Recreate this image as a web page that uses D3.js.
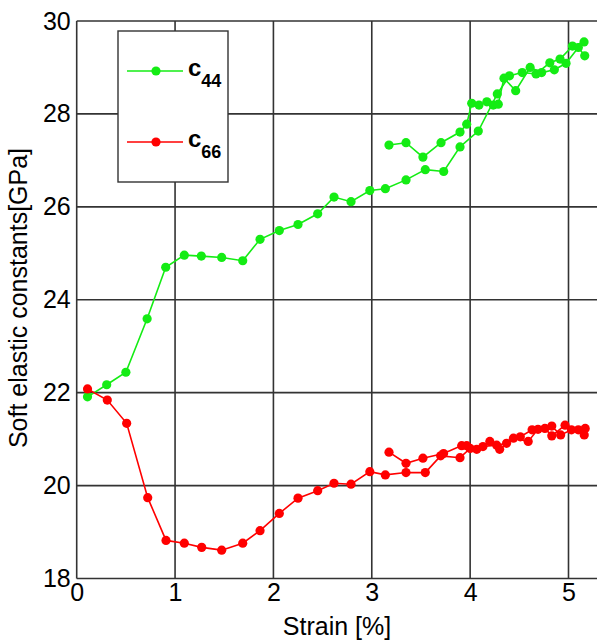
<!DOCTYPE html>
<html><head><meta charset="utf-8">
<script src="https://cdn.jsdelivr.net/npm/d3@7"></script>
<style>
html,body{margin:0;padding:0;background:#fff;}
svg{display:block;font-family:Arial,"Liberation Sans",sans-serif;}
</style></head>
<body>
<svg id="chart" width="597" height="641"></svg>
<script>
// ---- data ----
const xTicks = [0, 1, 2, 3, 4, 5];
const yTicks = [18, 20, 22, 24, 26, 28, 30];
const seriesNames = ["c44", "c66"];

const c44RunA_x = [0.11, 0.305, 0.50, 0.716, 0.905, 1.094, 1.267, 1.474, 1.688, 1.864, 2.06, 2.25, 2.45, 2.616, 2.789, 2.98, 3.138, 3.348, 3.544, 3.731, 3.897, 4.083, 4.276, 4.40, 4.53, 4.67, 4.81, 4.914, 5.04, 5.158];
const c44RunA_y = [21.91, 22.17, 22.44, 23.59, 24.70, 24.96, 24.94, 24.91, 24.84, 25.30, 25.49, 25.62, 25.85, 26.21, 26.11, 26.35, 26.39, 26.58, 26.80, 26.76, 27.29, 27.63, 28.43, 28.82, 28.89, 28.86, 29.10, 29.18, 29.46, 29.55];
const c44RunB_x = [3.175, 3.348, 3.52, 3.704, 3.897, 3.965, 4.016, 4.09, 4.17, 4.235, 4.286, 4.344, 4.463, 4.61, 4.727, 4.856, 4.975, 5.10, 5.165];
const c44RunB_y = [27.33, 27.38, 27.07, 27.38, 27.61, 27.78, 28.23, 28.19, 28.26, 28.19, 28.21, 28.77, 28.50, 29.00, 28.89, 28.95, 29.09, 29.43, 29.25];

const c66RunA_x = [0.11, 0.311, 0.508, 0.722, 0.908, 1.094, 1.271, 1.474, 1.688, 1.864, 2.06, 2.25, 2.45, 2.616, 2.789, 2.98, 3.138, 3.348, 3.544, 3.70, 3.897, 4.0, 4.13, 4.27, 4.37, 4.51, 4.63, 4.76, 4.83, 4.965, 5.10, 5.17];
const c66RunA_y = [22.08, 21.84, 21.34, 19.74, 18.82, 18.76, 18.67, 18.61, 18.76, 19.03, 19.40, 19.73, 19.89, 20.05, 20.03, 20.30, 20.23, 20.28, 20.28, 20.64, 20.60, 20.80, 20.84, 20.87, 20.91, 21.05, 21.20, 21.23, 21.07, 21.30, 21.20, 21.23];
const c66RunB_x = [3.175, 3.348, 3.52, 3.73, 3.914, 3.965, 4.067, 4.20, 4.30, 4.44, 4.59, 4.69, 4.83, 4.92, 5.03, 5.16];
const c66RunB_y = [20.72, 20.48, 20.59, 20.69, 20.86, 20.86, 20.78, 20.95, 20.78, 21.02, 20.95, 21.21, 21.28, 21.09, 21.20, 21.09];

const colors = {c44: "#14ec14", c66: "#ff0000"};

// ---- layout ----
const svg = d3.select("#chart");
const x = d3.scaleLinear().domain([0, 5.35]).range([76.7, 76.7 + 5.35 * 98.36]);
const y = d3.scaleLinear().domain([18, 30]).range([578.5, 21]);
const gridColor = "#333";

// grid
const g = svg.append("g");
g.selectAll("line.vg").data(xTicks.slice(1)).join("line")
  .attr("x1", d => x(d)).attr("x2", d => x(d))
  .attr("y1", y(30)).attr("y2", y(18))
  .attr("stroke", gridColor).attr("stroke-width", 1.6);
g.selectAll("line.hg").data(yTicks.slice(1, -1)).join("line")
  .attr("x1", x(0)).attr("x2", x(5.35))
  .attr("y1", d => y(d)).attr("y2", d => y(d))
  .attr("stroke", gridColor).attr("stroke-width", 1.6);

// axes frame
g.append("line").attr("x1", x(0)).attr("x2", x(5.35)).attr("y1", y(30)).attr("y2", y(30)).attr("stroke", gridColor).attr("stroke-width", 1.6);
g.append("line").attr("x1", x(0)).attr("x2", x(5.35)).attr("y1", y(18)).attr("y2", y(18)).attr("stroke", gridColor).attr("stroke-width", 1.6);
g.append("line").attr("x1", x(0)).attr("x2", x(0)).attr("y1", y(30)).attr("y2", y(18)).attr("stroke", gridColor).attr("stroke-width", 1.6);

// axis labels via d3 axes (no domain line)
const xAxis = d3.axisBottom(x).tickValues(xTicks).tickSize(0).tickPadding(5).tickFormat(d3.format("d"));
const gx = svg.append("g").attr("transform", `translate(0,${y(18)})`).call(xAxis);
gx.select(".domain").remove();
gx.selectAll("text").attr("font-size", 25).attr("fill", "#000").attr("font-family", "Arial, 'Liberation Sans', sans-serif");

const yAxis = d3.axisLeft(y).tickValues(yTicks).tickSize(0).tickPadding(6).tickFormat(d3.format("d"));
const gy = svg.append("g").attr("transform", `translate(${x(0)},0)`).call(yAxis);
gy.select(".domain").remove();
gy.selectAll("text").attr("font-size", 25).attr("fill", "#000").attr("font-family", "Arial, 'Liberation Sans', sans-serif");

svg.append("text").attr("x", 337).attr("y", 635).attr("text-anchor", "middle")
  .attr("font-size", 25).text("Strain [%]");
svg.append("text").attr("transform", "translate(27,298) rotate(-90)").attr("text-anchor", "middle")
  .attr("font-size", 25).text("Soft elastic constants[GPa]");

// data
const runs = [
  {name: "c44", xs: c44RunA_x, ys: c44RunA_y},
  {name: "c44", xs: c44RunB_x, ys: c44RunB_y},
  {name: "c66", xs: c66RunA_x, ys: c66RunA_y},
  {name: "c66", xs: c66RunB_x, ys: c66RunB_y}
];
const line = d3.line().x(d => x(d[0])).y(d => y(d[1]));
const plot = svg.append("g");
runs.forEach(r => {
  const pts = r.xs.map((v, i) => [v, r.ys[i]]);
  plot.append("path").datum(pts).attr("d", line)
    .attr("fill", "none").attr("stroke", colors[r.name]).attr("stroke-width", 1.6);
  plot.selectAll(null).data(pts).join("circle")
    .attr("cx", d => x(d[0])).attr("cy", d => y(d[1])).attr("r", 4.6)
    .attr("fill", colors[r.name]);
});

// legend
const lg = svg.append("g");
lg.append("rect").attr("x", 118).attr("y", 31).attr("width", 110).attr("height", 151)
  .attr("fill", "#fff").attr("stroke", gridColor).attr("stroke-width", 1.4);
const legendY = [71, 142];
seriesNames.forEach((n, i) => {
  lg.append("line").attr("x1", 127).attr("x2", 183).attr("y1", legendY[i]).attr("y2", legendY[i])
    .attr("stroke", colors[n]).attr("stroke-width", 1.6);
  lg.append("circle").attr("cx", 156).attr("cy", legendY[i]).attr("r", 4.6).attr("fill", colors[n]);
  const t = lg.append("text").attr("x", 188).attr("y", legendY[i] + 5).attr("font-size", 24).attr("font-weight", "bold");
  t.append("tspan").text(n.charAt(0));
  t.append("tspan").attr("dy", 11).attr("font-size", 18).attr("font-weight", "bold").text(n.slice(1));
});
</script>
</body></html>
